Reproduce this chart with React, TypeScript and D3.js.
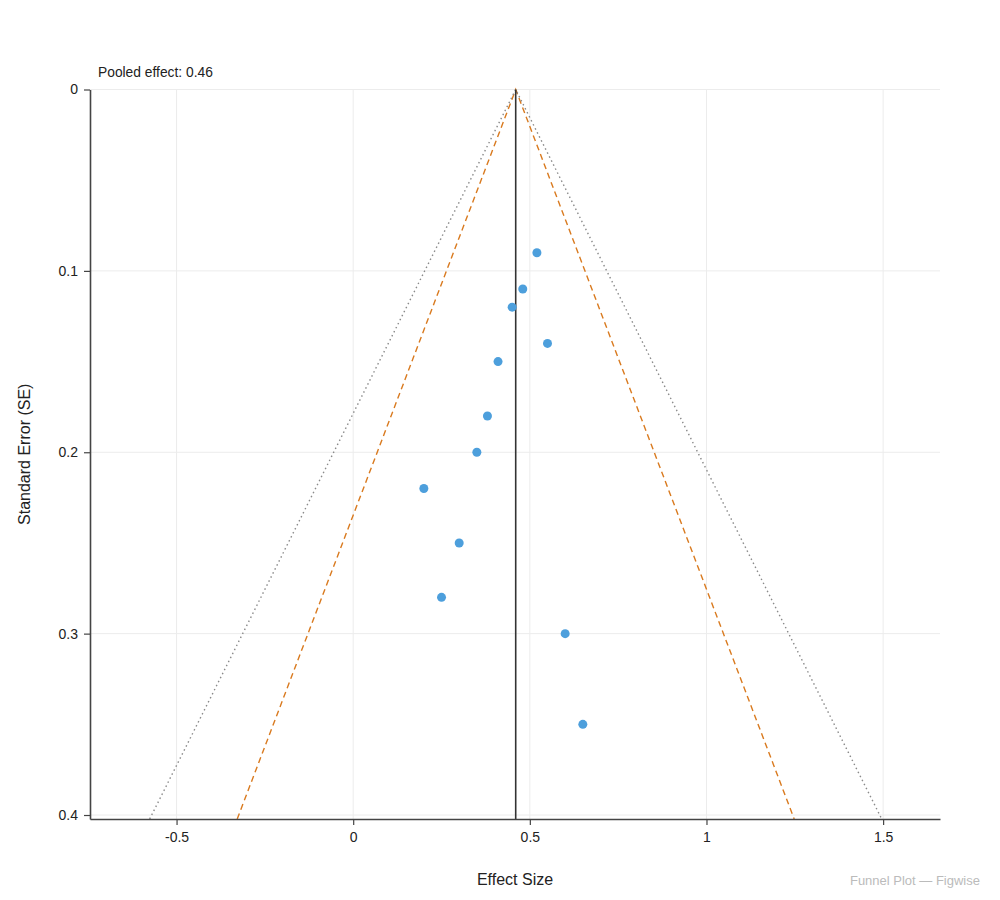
import React, { useEffect, useRef } from 'react';
import * as d3 from 'd3';

// study estimates
const effects = [0.52, 0.48, 0.45, 0.55, 0.41, 0.38, 0.35, 0.2, 0.3, 0.25, 0.6, 0.65];
const standardErrors = [0.09, 0.11, 0.12, 0.14, 0.15, 0.18, 0.2, 0.22, 0.25, 0.28, 0.3, 0.35];
const pooledEffect = 0.46;
const xTicks = [-0.5, 0, 0.5, 1, 1.5];
const yTicks = [0, 0.1, 0.2, 0.3, 0.4];
const zLevels = [
  { z: 1.96, color: '#d97a1f', dash: '6,4', width: 1.4 },
  { z: 2.576, color: '#8a8a8a', dash: '1.5,3', width: 1.4 },
];

const W = 1000;
const H = 900;
const margin = { top: 89.5, right: 60, bottom: 81, left: 90 };
const FONT = 'Helvetica, Arial, "Liberation Sans", sans-serif';

const App: React.FC = () => {
  const svgRef = useRef<SVGSVGElement | null>(null);

  useEffect(() => {
    const svg = d3.select(svgRef.current);
    svg.selectAll('*').remove();

    const innerW = W - margin.left - margin.right;
    const innerH = H - margin.top - margin.bottom;
    const seMax = 0.4022;

    const x = d3.scaleLinear().domain([-0.745, 1.661]).range([0, innerW]);
    const y = d3.scaleLinear().domain([0, seMax]).range([0, innerH]);

    const g = svg.append('g').attr('transform', `translate(${margin.left},${margin.top})`);

    // grid
    g.append('g')
      .selectAll('line.gx')
      .data(xTicks)
      .enter()
      .append('line')
      .attr('x1', d => x(d))
      .attr('x2', d => x(d))
      .attr('y1', 0)
      .attr('y2', innerH)
      .attr('stroke', '#ececec')
      .attr('stroke-width', 1);
    g.append('g')
      .selectAll('line.gy')
      .data(yTicks)
      .enter()
      .append('line')
      .attr('x1', 0)
      .attr('x2', innerW)
      .attr('y1', d => y(d))
      .attr('y2', d => y(d))
      .attr('stroke', '#ececec')
      .attr('stroke-width', 1);

    // funnel limits
    zLevels.forEach(lv => {
      const pts: [number, number][] = [
        [pooledEffect - lv.z * seMax, seMax],
        [pooledEffect, 0],
        [pooledEffect + lv.z * seMax, seMax],
      ];
      g.append('path')
        .attr(
          'd',
          d3
            .line<[number, number]>()
            .x(d => x(d[0]))
            .y(d => y(d[1]))(pts)
        )
        .attr('fill', 'none')
        .attr('stroke', lv.color)
        .attr('stroke-width', lv.width)
        .attr('stroke-dasharray', lv.dash);
    });

    // pooled effect line
    g.append('line')
      .attr('x1', x(pooledEffect))
      .attr('x2', x(pooledEffect))
      .attr('y1', 0)
      .attr('y2', innerH)
      .attr('stroke', '#333')
      .attr('stroke-width', 1.6);

    // points
    g.selectAll('circle')
      .data(effects.map((e, i) => ({ e, se: standardErrors[i] })))
      .enter()
      .append('circle')
      .attr('cx', d => x(d.e))
      .attr('cy', d => y(d.se))
      .attr('r', 4.5)
      .attr('fill', '#4d9fdc');

    // axes
    const xAxis = g
      .append('g')
      .attr('transform', `translate(0,${innerH})`)
      .call(d3.axisBottom(x).tickValues(xTicks).tickSize(6).tickSizeOuter(0).tickPadding(7).tickFormat(d => String(d)));
    const yAxis = g
      .append('g')
      .call(d3.axisLeft(y).tickValues(yTicks).tickSize(6).tickSizeOuter(0).tickPadding(6).tickFormat(d => String(d)));
    [xAxis, yAxis].forEach(a => {
      a.select('.domain').attr('stroke', '#444').attr('stroke-width', 1.6);
      a.selectAll('.tick line').attr('stroke', '#444').attr('stroke-width', 1.2);
      a.selectAll('.tick text').attr('fill', '#222').style('font-size', '14px').style('font-family', FONT);
    });

    // labels
    g.append('text')
      .attr('x', 8)
      .attr('y', -13)
      .attr('fill', '#222')
      .style('font-size', '13.8px')
      .style('font-family', FONT)
      .text(`Pooled effect: ${pooledEffect.toFixed(2)}`);

    svg
      .append('text')
      .attr('x', margin.left + innerW / 2)
      .attr('y', 885)
      .attr('text-anchor', 'middle')
      .attr('fill', '#222')
      .style('font-size', '16px')
      .style('font-family', FONT)
      .text('Effect Size');

    svg
      .append('text')
      .attr('transform', `translate(30,${margin.top + innerH / 2}) rotate(-90)`)
      .attr('text-anchor', 'middle')
      .attr('fill', '#222')
      .style('font-size', '16px')
      .style('font-family', FONT)
      .text('Standard Error (SE)');

    svg
      .append('text')
      .attr('x', 980)
      .attr('y', 885)
      .attr('text-anchor', 'end')
      .attr('fill', '#bbb')
      .style('font-size', '13px')
      .style('font-family', FONT)
      .text('Funnel Plot — Figwise');
  }, []);

  return <svg ref={svgRef} width={W} height={H} style={{ display: 'block', margin: '-8px' }}></svg>;
};

export default App;
